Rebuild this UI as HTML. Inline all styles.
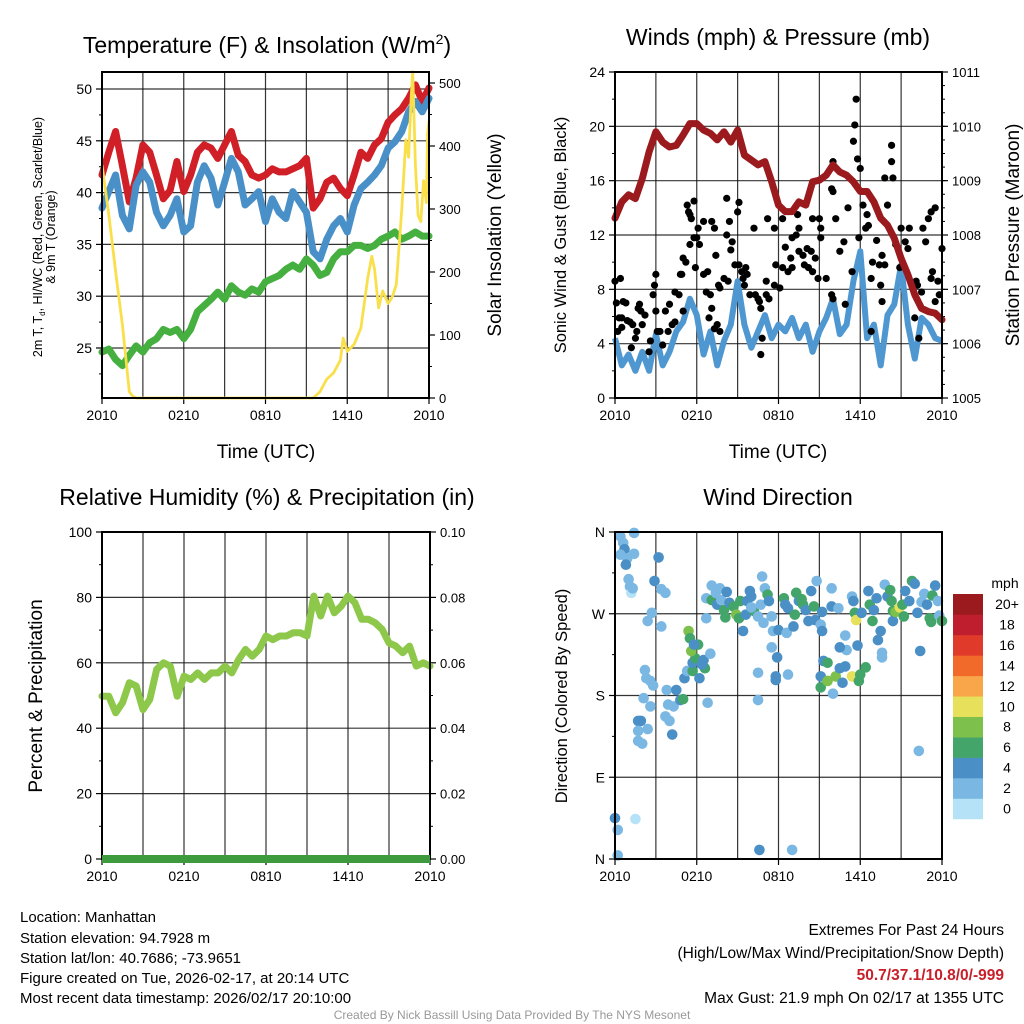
<!DOCTYPE html>
<html><head><meta charset="utf-8"><style>
html,body{margin:0;padding:0;background:#fff;}
svg{display:block;font-family:"Liberation Sans",Arial,sans-serif;}
</style></head><body>
<svg id="chart" width="1024" height="1024" viewBox="0 0 1024 1024" xmlns="http://www.w3.org/2000/svg">
<rect width="1024" height="1024" fill="#fff"/>
<g id="g1"></g>
<g id="g2"></g>
<g id="g3"></g>
<g id="g4"></g>
<text x="267" y="53" font-size="23" text-anchor="middle">Temperature (F) &amp; Insolation (W/m<tspan font-size="14" dy="-9">2</tspan><tspan dy="9">)</tspan></text>
<text x="778" y="45" font-size="23" text-anchor="middle">Winds (mph) &amp; Pressure (mb)</text>
<text x="267" y="505" font-size="23" text-anchor="middle">Relative Humidity (%) &amp; Precipitation (in)</text>
<text x="778" y="505" font-size="23" text-anchor="middle">Wind Direction</text>
<text x="266" y="458" font-size="19" text-anchor="middle">Time (UTC)</text>
<text x="778" y="458" font-size="19" text-anchor="middle">Time (UTC)</text>
<text transform="translate(42,237) rotate(-90)" font-size="12.5" text-anchor="middle">2m T, T<tspan font-size="8" dy="3">d</tspan><tspan dy="-3">, HI/WC (Red, Green, Scarlet/Blue)</tspan></text>
<text transform="translate(55,237) rotate(-90)" font-size="12.5" text-anchor="middle">&amp; 9m T (Orange)</text>
<text transform="translate(501,235) rotate(-90)" font-size="19" text-anchor="middle">Solar Insolation (Yellow)</text>
<text transform="translate(566,235) rotate(-90)" font-size="16.5" text-anchor="middle">Sonic Wind &amp; Gust (Blue, Black)</text>
<text transform="translate(1019,235) rotate(-90)" font-size="19" text-anchor="middle">Station Pressure (Maroon)</text>
<text transform="translate(42,696) rotate(-90)" font-size="19" text-anchor="middle">Percent &amp; Precipitation</text>
<text transform="translate(567,696) rotate(-90)" font-size="16.5" text-anchor="middle">Direction (Colored By Speed)</text>
<g font-size="15">
<text x="20" y="922">Location: Manhattan</text>
<text x="20" y="943">Station elevation: 94.7928 m</text>
<text x="20" y="963">Station lat/lon: 40.7686; -73.9651</text>
<text x="20" y="983">Figure created on Tue, 2026-02-17, at 20:14 UTC</text>
<text x="20" y="1003">Most recent data timestamp: 2026/02/17 20:10:00</text>
</g>
<g font-size="15.5" text-anchor="end">
<text x="1004" y="935">Extremes For Past 24 Hours</text>
<text x="1004" y="958">(High/Low/Max Wind/Precipitation/Snow Depth)</text>
<text x="1004" y="980" fill="#c8202a" font-weight="bold">50.7/37.1/10.8/0/-999</text>
<text x="1004" y="1003">Max Gust: 21.9 mph On 02/17 at 1355 UTC</text>
</g>
<text x="512" y="1019" font-size="12" fill="#999" text-anchor="middle">Created By Nick Bassill Using Data Provided By The NYS Mesonet</text>
</svg>
<script>
// ---- data ----
const timeLabels = ["2010","0210","0810","1410","2010"];
const halfHours = [0,0.5,1,1.5,2,2.5,3,3.5,4,4.5,5,5.5,6,6.5,7,7.5,8,8.5,9,9.5,10,10.5,11,11.5,12,12.5,13,13.5,14,14.5,15,15.5,16,16.5,17,17.5,18,18.5,19,19.5,20,20.5,21,21.5,22,22.5,23,23.5,24];
const tempVals = [41.7,43.9,45.9,42.6,39.1,41.4,44.6,43.9,41.7,39.4,40.2,43.0,40.1,41.7,43.9,44.6,44.3,43.3,44.6,45.9,43.6,43.0,41.7,41.4,41.7,42.3,42.0,42.0,42.3,42.6,43.3,38.5,39.4,41.0,41.4,40.4,39.7,41.7,43.9,43.3,44.6,45.2,46.8,47.5,48.1,49.1,50.4,48.8,50.1];
const hiwcVals = [38.5,40.1,41.7,37.8,36.5,40.7,42.0,41.0,38.1,36.8,37.8,39.4,36.2,36.8,41.0,42.6,41.4,38.8,41.0,43.3,42.0,38.8,39.4,40.1,37.2,39.4,38.1,37.5,40.1,39.1,38.1,34.3,33.6,35.5,36.8,37.5,36.2,38.8,40.4,41.0,41.7,42.6,44.3,44.9,45.9,47.8,48.8,47.8,49.1];
const dewVals = [24.6,24.9,23.9,23.3,24.3,25.2,24.6,25.5,25.9,26.8,26.5,26.8,25.9,26.8,28.5,29.1,29.7,30.4,29.7,31.0,30.4,30.1,30.7,30.4,31.4,31.7,32.0,32.6,33.0,32.6,33.6,33.0,32.0,32.3,33.6,34.3,34.3,34.9,34.9,34.6,34.9,35.5,35.8,36.2,35.5,35.8,36.2,35.8,35.8];
const tempTicks = [25,30,35,40,45,50];
const solarTicks = [0,100,200,300,400,500];
const solarHours = [0,0.5,1,1.5,2,2.3,2.5,15.5,16,16.5,17,17.5,17.7,18,18.5,19,19.5,19.8,20,20.3,20.6,21,21.3,21.6,22,22.3,22.5,22.7,22.8,23,23.2,23.4,23.6,23.8,23.9,24];
const solarVals = [370,291,201,116,10,2,0,0,10,30,40,60,95,74,85,111,190,225,205,143,170,150,160,180,300,410,382,480,518,370,290,280,345,310,420,440];

const presVals = [1008.31,1008.61,1008.74,1008.67,1009.04,1009.53,1009.90,1009.71,1009.62,1009.65,1009.84,1010.05,1010.05,1009.93,1009.87,1009.75,1009.90,1009.71,1009.93,1009.47,1009.38,1009.29,1009.35,1008.98,1008.55,1008.43,1008.43,1008.61,1008.55,1008.98,1009.01,1009.10,1009.29,1009.16,1009.10,1008.98,1008.80,1008.80,1008.61,1008.31,1008.18,1007.94,1007.57,1007.27,1006.90,1006.65,1006.59,1006.56,1006.44];
const windVals = [4.4,2.4,3.2,2.0,3.4,2.0,4.7,2.4,3.4,4.9,5.6,7.3,6.1,3.2,4.9,2.4,4.2,5.4,8.6,5.4,3.7,4.9,6.1,4.4,5.4,4.9,5.9,4.4,5.4,3.4,4.9,5.9,7.3,4.7,5.4,8.6,10.8,4.4,5.4,2.4,6.1,6.9,9.8,5.4,2.9,5.9,5.4,4.4,4.2];
const gustHours = [0.0,0.1,0.2,0.3,0.5,0.6,0.8,0.5,0.9,0.4,1.1,1.3,1.5,1.2,1.8,1.9,1.7,1.6,2.0,2.2,2.5,2.8,2.9,3.0,3.0,3.1,2.6,3.3,3.5,3.7,4.0,4.2,4.4,3.9,4.4,4.7,4.8,4.9,5.0,5.2,5.0,5.3,5.5,5.6,5.4,5.5,5.8,5.8,6.0,5.9,6.2,6.1,6.5,6.5,6.7,6.9,7.0,6.8,7.1,7.3,7.4,7.1,7.3,7.6,7.7,7.7,7.5,8.0,8.2,8.2,8.4,8.5,8.6,8.8,8.3,9.0,9.1,9.1,9.3,9.4,9.6,9.7,9.5,9.9,10.2,10.3,10.5,10.6,10.7,11.1,10.7,10.8,11.2,11.1,11.3,11.8,11.7,12.1,11.7,12.3,12.5,12.3,12.7,12.9,13.0,13.4,13.5,13.3,13.0,13.5,13.8,14.1,13.9,14.5,14.4,14.7,14.2,14.9,14.5,15.1,15.1,15.0,15.5,15.9,15.9,16.0,16.0,16.2,16.8,16.5,16.0,16.9,17.1,17.5,17.6,17.7,17.8,17.9,17.4,18.0,18.2,18.5,18.6,18.4,18.9,18.8,18.8,19.2,19.6,19.8,19.6,19.8,20.0,19.4,19.5,20.3,20.3,20.4,21.0,20.6,20.9,21.3,21.5,22.1,21.6,22.2,22.0,22.3,22.5,22.6,22.8,23.0,23.2,23.2,23.5,23.3,23.7,23.8,24.0,23.5];
const gustVals = [8.6,7.0,4.9,5.9,5.9,7.1,7.0,5.2,5.7,8.8,5.6,5.4,4.4,3.7,6.9,6.4,6.6,4.9,5.4,6.1,3.4,7.6,8.3,9.1,6.4,4.9,4.2,4.9,3.9,6.4,6.9,5.4,5.6,4.9,7.8,7.6,9.1,9.1,10.3,10.0,6.4,14.2,13.5,13.2,13.7,11.3,11.8,14.5,11.8,9.6,11.3,12.5,13.0,9.1,7.8,5.9,7.6,9.3,6.6,5.1,10.5,13.0,12.5,8.3,8.1,4.9,5.4,8.8,14.7,12.0,13.0,10.9,11.5,9.8,8.6,13.7,14.4,9.8,9.3,8.8,9.6,9.1,8.3,7.6,12.5,7.6,7.3,7.1,6.6,7.6,3.2,4.4,13.2,8.6,7.3,9.8,12.5,8.1,8.3,13.2,11.1,9.6,9.3,10.3,9.6,13.5,12.5,12.0,11.8,10.8,10.5,11.0,9.8,13.2,10.8,10.3,9.6,8.8,9.3,11.8,12.5,13.2,8.8,15.4,7.6,17.4,15.2,13.2,11.5,10.8,7.3,6.9,14.0,18.9,20.1,22.0,17.6,11.8,9.3,16.9,14.2,13.5,12.7,12.5,10.0,8.8,4.9,11.6,10.5,9.8,7.1,16.2,14.2,9.8,8.3,18.6,17.4,16.2,12.5,11.3,9.6,11.5,11.0,8.6,12.5,8.3,5.9,4.4,7.8,12.5,11.5,13.2,8.8,13.7,14.0,9.3,8.6,7.6,11.0,7.1];
const windTicks = [0,4,8,12,16,20,24];
const presTicks = [1005,1006,1007,1008,1009,1010,1011];

const rhVals = [49.8,49.8,44.7,47.8,53.9,52.9,45.7,48.8,58.0,60.0,59.0,49.8,55.9,54.9,56.9,54.9,56.9,56.9,59.0,56.9,61.0,64.1,62.0,64.1,68.2,67.1,68.2,68.2,69.2,69.2,68.2,80.4,74.3,80.4,75.3,77.3,80.4,78.4,73.3,73.3,72.2,70.2,66.1,65.1,63.1,65.1,59.0,60.0,59.0];
const precipVals = [0,0];
const precipHours = [0,24];
const rhTicks = [0,20,40,60,80,100];
const precipTicks = ["0.00","0.02","0.04","0.06","0.08","0.10"];

const dirHours = [0.4,0.6,0.7,0.4,0.9,0.8,1.4,1.4,1.0,1.1,1.2,1.3,0,0.2,1.5,0.2,3.2,2.9,3.4,3.7,2.7,2.4,3.4,2.2,2.3,2.6,2.8,2.1,2.6,1.7,1.9,1.7,2.4,1.7,2.0,3.8,4.5,3.9,4.3,4.8,5.0,3.7,4.0,4.2,5.1,5.3,5.7,5.7,6.2,5.9,5.6,5.4,5.5,6.1,5.8,6.5,6.6,6.4,6.8,7.0,6.7,7.1,6.7,7.1,7.5,7.7,7.4,7.8,8.0,8.1,8.2,8.4,8.7,8.9,9.1,9.2,9.4,9.6,9.7,9.9,10.0,10.2,10.5,10.7,10.8,11.0,10.9,11.2,11.3,11.5,11.6,11.5,11.9,11.8,11.8,12.0,12.4,12.5,12.7,12.6,12.7,10.5,10.5,13.1,13.2,13.3,13.5,13.7,13.8,14.0,14.2,14.4,14.6,14.7,14.8,15.1,15.2,15.3,15.6,15.1,15.1,15.6,16.2,16.0,16.7,16.9,16.5,17.0,16.9,16.5,15.9,15.9,16.4,17.4,17.5,17.6,17.7,17.4,18.0,17.9,18.4,17.8,18.1,18.6,18.7,18.9,19.0,19.2,19.3,19.5,19.6,19.6,19.8,20.0,20.2,20.3,20.4,20.4,20.6,20.9,21.1,21.2,21.3,21.6,21.8,22.0,22.2,22.4,22.3,22.5,22.7,22.9,23.1,23.2,23.3,23.5,23.7,23.8,24.0,10.6,13.0,10.0,15.2];
const dirDeg = [355,348,341,335,331,324,359,336,308,300,293,298,45,32,44,4,332,306,297,293,271,262,256,208,199,196,191,177,168,152,152,141,143,130,127,186,186,170,168,175,176,157,152,137,199,207,207,216,199,221,229,251,243,236,236,219,210,214,172,226,265,301,287,285,280,298,293,285,274,266,294,282,278,269,265,284,251,269,284,295,289,273,267,280,311,298,260,291,284,267,251,233,222,201,197,252,287,280,276,249,203,205,175,256,269,293,284,286,280,274,262,295,278,263,306,258,251,218,216,201,189,196,201,182,194,212,210,230,246,233,298,278,276,289,284,271,263,201,203,196,211,235,271,295,280,262,274,287,241,251,227,222,302,289,296,284,273,262,272,277,280,267,295,284,306,303,271,229,119,283,292,280,265,261,290,301,284,268,262,10,10,277,272];
const dirSpeed = [3,3,5,3,3,5,3,3,3,3,1.5,3,5,3,1,3,5,5,3,3,3,3,3,3,3,3,3,3,3,5,5,3,3,3,3,3,5,3,3,5,7,3,3,5,5,3,7,5,5,7,9,9,7,7,5,5,7,5,3,3,3,3,3,7,5,3,3,3,7,7,5,5,7,9,7,7,5,5,5,5,5,7,3,3,3,3,3,7,5,3,3,3,5,5,5,5,7,5,5,3,3,3,3,5,7,7,5,7,7,5,5,5,7,5,3,3,5,5,7,5,7,9,9,3,5,5,5,3,3,5,3,5,3,3,5,7,11,11,7,7,7,5,5,5,7,7,5,5,5,5,3,3,3,5,7,7,7,5,9,11,7,7,5,5,7,5,5,5,3,3,3,5,7,7,7,5,3,3,7,5,3,3,5,5];
const dirLabels = ["N","E","S","W","N"];
const cbLabels = ["0","2","4","6","8","10","12","14","16","18","20+"];
const cbColors = ["#b5e2f7","#7ab8e3","#4a8fc6","#44a56b","#7dc04b","#e6e05a","#f9a54a","#f26a2a","#e03a2a","#be1e2d","#9b1a1e"];

// ---- helpers ----
const NS = "http://www.w3.org/2000/svg";
function mk(tag, attrs, parent) {
  const e = document.createElementNS(NS, tag);
  for (const k in attrs) e.setAttribute(k, attrs[k]);
  parent.appendChild(e);
  return e;
}
function linScale(d0, d1, r0, r1) { return v => r0 + (v - d0) * (r1 - r0) / (d1 - d0); }
function pathD(xs, ys, sx, sy) {
  return xs.map((h, i) => (i ? "L" : "M") + sx(h).toFixed(1) + "," + sy(ys[i]).toFixed(1)).join("");
}
function frame(g, x0, x1, y0, y1, sx) {
  for (let h = 3; h < 24; h += 3) {
    const ln = mk("line", {x1: sx(h), x2: sx(h), y1: y0, y2: y1, stroke: "#111", "stroke-width": 1.2, "stroke-opacity": 0.85}, g);
    
    
  }
  timeLabels.forEach((t, i) => {
    const h = i === 0 ? 0 : i === 4 ? 24 : (i - 1) * 6 + 6;
    const x = sx(h);
    mk("line", {x1: x, x2: x, y1: y1, y2: y1 + 6, stroke: "#000", "stroke-width": 1.2}, g);
    const tx = mk("text", {x: x, y: y1 + 22, "font-size": 14, "text-anchor": "middle"}, g);
    tx.textContent = t;
    
    
  });
}
function hgrid(g, y, x0, x1) {
  const ln = mk("line", {x1: x0, x2: x1, y1: y, y2: y, stroke: "#111", "stroke-width": 1.2, "stroke-opacity": 0.85}, g);
  
  
}
function border(g, x0, x1, y0, y1) {
  const r = mk("rect", {x: x0, y: y0, width: x1 - x0, height: y1 - y0, fill: "none", stroke: "#000", "stroke-width": 2}, g);
  
  
}
function ytick(g, x, y, label, side, size) {
  const dir = side === "left" ? -1 : 1;
  mk("line", {x1: x, x2: x + dir * 6, y1: y, y2: y, stroke: "#000", "stroke-width": 1.2}, g);
  const t = mk("text", {x: x + dir * 10, y: y + 5, "font-size": size || 14, "text-anchor": side === "left" ? "end" : "start"}, g);
  t.textContent = label;
  
  
}

// ---- panel 1: temperature ----
(function () {
  const g = document.getElementById("g1");
  const X0 = 102, X1 = 429, Y0 = 72, Y1 = 398;
  const sx = linScale(0, 24, X0, X1);
  const sy = linScale(50, 25, 89, 348);
  const ss = linScale(0, 500, 398, 83);
  frame(g, X0, X1, Y0, Y1, sx);
  tempTicks.forEach(v => { hgrid(g, sy(v), X0, X1); ytick(g, X0, sy(v), String(v), "left", 14); });
  for (let v = 22.5; v <= 52; v += 5) mk("line", {x1: X0, x2: X0 - 3, y1: sy(v), y2: sy(v), stroke: "#000"}, g);
  solarTicks.forEach(v => ytick(g, X1, ss(v), String(v), "right", 13));
  for (let v = 50; v <= 500; v += 100) mk("line", {x1: X1, x2: X1 + 3, y1: ss(v), y2: ss(v), stroke: "#000"}, g);
  const series = [[dewVals, "#45b03f", "dewpoint-line"], [hiwcVals, "#4a90c8", "heat-index-windchill-line"], [tempVals, "#d01f27", "temperature-line"]];
  const order = [series[0], series[2], series[1]];
  order.forEach(s => {
    const p = mk("path", {d: pathD(halfHours, s[0], sx, sy), fill: "none", stroke: s[1], "stroke-width": 7, "stroke-linejoin": "round", "stroke-linecap": "round"}, g);
    
    
  });
  const sp = mk("path", {d: pathD(solarHours, solarVals, sx, ss), fill: "none", stroke: "#f9e04b", "stroke-width": 2.8, "stroke-linejoin": "round"}, g);
  
  
  border(g, X0, X1, Y0, Y1);
})();

// ---- panel 2: winds & pressure ----
(function () {
  const g = document.getElementById("g2");
  const X0 = 615, X1 = 942, Y0 = 72, Y1 = 398;
  const sx = linScale(0, 24, X0, X1);
  const sy = linScale(0, 24, Y1, Y0);
  const sp = linScale(1005, 1011, Y1, Y0);
  frame(g, X0, X1, Y0, Y1, sx);
  windTicks.forEach(v => { if (v > 0 && v < 24) hgrid(g, sy(v), X0, X1); ytick(g, X0, sy(v), String(v), "left", 14); });
  for (let v = 2; v < 24; v += 4) mk("line", {x1: X0, x2: X0 - 3, y1: sy(v), y2: sy(v), stroke: "#000"}, g);
  presTicks.forEach(v => ytick(g, X1, sp(v), String(v), "right", 13));
  for (let v = 1005.25; v < 1011; v += 0.25) mk("line", {x1: X1, x2: X1 + 3, y1: sp(v), y2: sp(v), stroke: "#000"}, g);
  const wp = mk("path", {d: pathD(halfHours, windVals, sx, sy), fill: "none", stroke: "#4f97d0", "stroke-width": 6, "stroke-linejoin": "round"}, g);
  
  
  gustHours.forEach((h, i) => {
    const c = mk("circle", {cx: sx(h), cy: sy(gustVals[i]), r: 3.6, fill: "#000"}, g);
    
    
  });
  const pp = mk("path", {d: pathD(halfHours, presVals, sx, sp), fill: "none", stroke: "#9b1a1e", "stroke-width": 7, "stroke-linejoin": "round", "stroke-linecap": "round"}, g);
  
  
  border(g, X0, X1, Y0, Y1);
})();

// ---- panel 3: RH ----
(function () {
  const g = document.getElementById("g3");
  const X0 = 102, X1 = 430, Y0 = 532, Y1 = 859;
  const sx = linScale(0, 24, X0, X1);
  const sy = linScale(0, 100, Y1, Y0);
  const spr = linScale(0, 0.1, Y1, Y0);
  frame(g, X0, X1, Y0, Y1, sx);
  rhTicks.forEach((v, i) => {
    if (v > 0 && v < 100) hgrid(g, sy(v), X0, X1);
    ytick(g, X0, sy(v), String(v), "left", 14);
    ytick(g, X1, sy(v), precipTicks[i], "right", 13);
  });
  for (let v = 10; v < 100; v += 20) {
    mk("line", {x1: X0, x2: X0 - 3, y1: sy(v), y2: sy(v), stroke: "#000"}, g);
    mk("line", {x1: X1, x2: X1 + 3, y1: sy(v), y2: sy(v), stroke: "#000"}, g);
  }
  const rp = mk("path", {d: pathD(halfHours, rhVals, sx, sy), fill: "none", stroke: "#8dc84b", "stroke-width": 7, "stroke-linejoin": "round", "stroke-linecap": "round"}, g);
  
  
  border(g, X0, X1, Y0, Y1);
  const pr = mk("path", {d: pathD(precipHours, precipVals, sx, spr), fill: "none", stroke: "#3d9a3d", "stroke-width": 8}, g);
  
  
})();

// ---- panel 4: wind direction ----
(function () {
  const g = document.getElementById("g4");
  const X0 = 615, X1 = 942, Y0 = 532, Y1 = 859;
  const sx = linScale(0, 24, X0, X1);
  const sy = linScale(0, 360, Y1, Y0);
  frame(g, X0, X1, Y0, Y1, sx);
  dirLabels.forEach((l, i) => {
    const v = i * 90;
    if (v > 0 && v < 360) hgrid(g, sy(v), X0, X1);
    ytick(g, X0, sy(v), l, "left", 14);
  });
  for (let v = 45; v < 360; v += 90) mk("line", {x1: X0, x2: X0 - 3, y1: sy(v), y2: sy(v), stroke: "#000"}, g);
  dirHours.forEach((h, i) => {
    const b = Math.min(10, Math.floor(dirSpeed[i] / 2));
    const c = mk("circle", {cx: sx(h), cy: sy(dirDeg[i]), r: 5.3, fill: cbColors[b]}, g);
    
    
  });
  border(g, X0, X1, Y0, Y1);
  const cbTop = 594, cbH = 20.45;
  const u = mk("text", {x: 1005, y: 588, "font-size": 14, "text-anchor": "middle"}, g);
  u.textContent = "mph";
  
  
  cbLabels.forEach((l, i) => {
    const y = cbTop + (10 - i) * cbH;
    const r = mk("rect", {x: 953, y: y, width: 30, height: cbH + 0.3, fill: cbColors[i]}, g);
    
    
    const t = mk("text", {x: 1007, y: y + 15, "font-size": 14, "text-anchor": "middle"}, g);
    t.textContent = l;
    
    
  });
})();
</script>
</body></html>
